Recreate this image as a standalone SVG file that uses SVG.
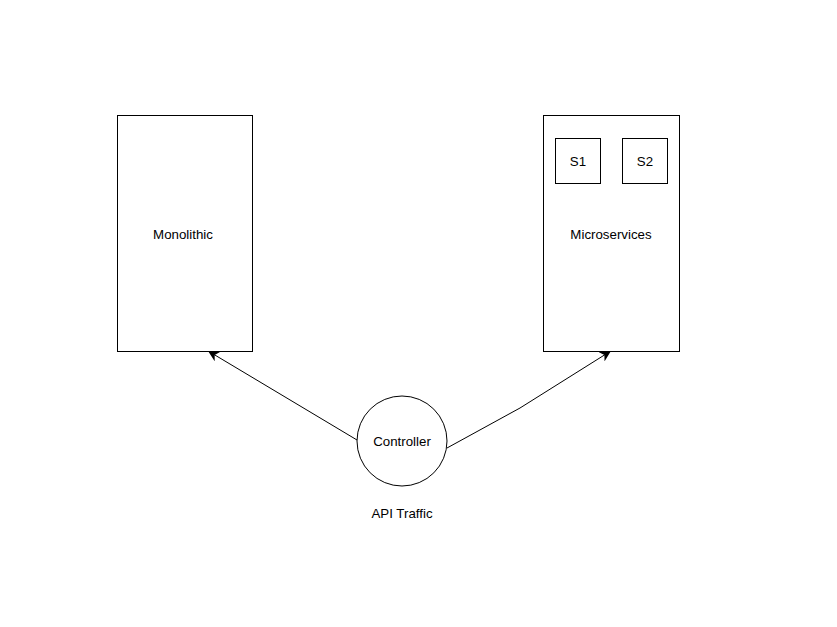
<svg xmlns="http://www.w3.org/2000/svg" width="837" height="627" viewBox="0 0 837 627">
<style>
.box{fill:#fff;stroke:#000;stroke-width:1}
.lbl{font-family:"Liberation Sans",Arial,sans-serif;font-size:13.3px;fill:#000;text-anchor:middle;dominant-baseline:central}
.edge{fill:none;stroke:#000;stroke-width:1}
</style>
<defs>
<marker id="arr" viewBox="0 0 10 10" refX="9" refY="5" markerWidth="11" markerHeight="11" markerUnits="userSpaceOnUse" orient="auto">
<path d="M0,0 L10,5 L0,10 L3,5 Z" fill="#000"/>
</marker>
</defs>
<rect width="837" height="627" fill="#fff"/>
<g id="monolithic">
<rect class="box" x="117.5" y="115.5" width="135" height="236"/>
<text class="lbl" x="183" y="234">Monolithic</text>
</g>
<g id="microservices">
<rect class="box" x="543.5" y="115.5" width="136" height="236"/>
<text class="lbl" x="611" y="234">Microservices</text>
</g>
<g id="s1">
<rect class="box" x="555.5" y="138.5" width="45" height="45"/>
<text class="lbl" x="578" y="161">S1</text>
</g>
<g id="s2">
<rect class="box" x="622.5" y="138.5" width="45" height="45"/>
<text class="lbl" x="645" y="161">S2</text>
</g>
<g id="controller">
<circle class="box" cx="402" cy="441" r="45"/>
<text class="lbl" x="402" y="441">Controller</text>
</g>
<g id="api-traffic">
<text class="lbl" x="402" y="513">API Traffic</text>
</g>
<g id="connectors">
<path class="edge" d="M357,440 L209,351.5" marker-end="url(#arr)"/>
<path class="edge" d="M447,448 L520,408 L610,351.5" marker-end="url(#arr)"/>
</g>
</svg>
